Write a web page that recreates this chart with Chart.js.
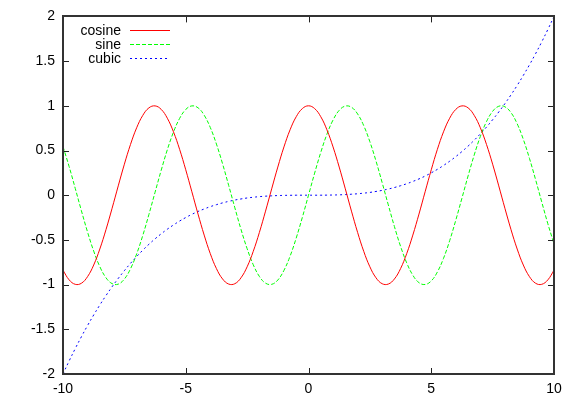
<!DOCTYPE html>
<html>
<head>
<meta charset="utf-8">
<script src="https://cdn.jsdelivr.net/npm/chart.js@4/dist/chart.umd.min.js"></script>
<style>
  html, body { margin: 0; padding: 0; background: #fff; }
  #wrap { width: 576px; height: 403px; }
</style>
</head>
<body>
<div id="wrap"><canvas id="plot"></canvas></div>
<script>
// sample positions along x
const xs = [
  -10, -9.75, -9.5, -9.25, -9, -8.75, -8.5, -8.25, -8, -7.75, -7.5, -7.25, -7, -6.75, -6.5, -6.25,
  -6, -5.75, -5.5, -5.25, -5, -4.75, -4.5, -4.25, -4, -3.75, -3.5, -3.25, -3, -2.75, -2.5, -2.25,
  -2, -1.75, -1.5, -1.25, -1, -0.75, -0.5, -0.25, 0, 0.25, 0.5, 0.75, 1, 1.25, 1.5, 1.75,
  2, 2.25, 2.5, 2.75, 3, 3.25, 3.5, 3.75, 4, 4.25, 4.5, 4.75, 5, 5.25, 5.5, 5.75,
  6, 6.25, 6.5, 6.75, 7, 7.25, 7.5, 7.75, 8, 8.25, 8.5, 8.75, 9, 9.25, 9.5, 9.75, 10
];

const cosine = [
  -0.839, -0.947, -0.997, -0.985, -0.911, -0.781, -0.602, -0.386, -0.146, 0.104, 0.347, 0.568, 0.754, 0.893, 0.977, 0.999,
  0.960, 0.861, 0.709, 0.513, 0.284, 0.038, -0.211, -0.446, -0.654, -0.821, -0.937, -0.994, -0.990, -0.924, -0.801, -0.628,
  -0.416, -0.178, 0.071, 0.315, 0.540, 0.732, 0.878, 0.969, 1, 0.969, 0.878, 0.732, 0.540, 0.315, 0.071, -0.178,
  -0.416, -0.628, -0.801, -0.924, -0.990, -0.994, -0.937, -0.821, -0.654, -0.446, -0.211, 0.038, 0.284, 0.513, 0.709, 0.861,
  0.960, 0.999, 0.977, 0.893, 0.754, 0.568, 0.347, 0.104, -0.146, -0.386, -0.602, -0.781, -0.911, -0.985, -0.997, -0.947, -0.839
];

const sine = [
  0.544, 0.320, 0.075, -0.174, -0.412, -0.625, -0.799, -0.923, -0.989, -0.995, -0.938, -0.823, -0.657, -0.450, -0.215, 0.033,
  0.279, 0.509, 0.706, 0.859, 0.959, 0.999, 0.978, 0.895, 0.757, 0.572, 0.351, 0.108, -0.141, -0.382, -0.598, -0.778,
  -0.909, -0.984, -0.997, -0.949, -0.841, -0.682, -0.479, -0.247, 0, 0.247, 0.479, 0.682, 0.841, 0.949, 0.997, 0.984,
  0.909, 0.778, 0.598, 0.382, 0.141, -0.108, -0.351, -0.572, -0.757, -0.895, -0.978, -0.999, -0.959, -0.859, -0.706, -0.509,
  -0.279, -0.033, 0.215, 0.450, 0.657, 0.823, 0.938, 0.995, 0.989, 0.923, 0.799, 0.625, 0.412, 0.174, -0.075, -0.320, -0.544
];

const cubic = [
  -2, -1.854, -1.715, -1.583, -1.458, -1.340, -1.228, -1.123, -1.024, -0.931, -0.844, -0.762, -0.686, -0.615, -0.549, -0.488,
  -0.432, -0.380, -0.333, -0.289, -0.25, -0.214, -0.182, -0.154, -0.128, -0.106, -0.086, -0.069, -0.054, -0.042, -0.031, -0.023,
  -0.016, -0.011, -0.007, -0.004, -0.002, -0.001, 0, 0, 0, 0, 0, 0.001, 0.002, 0.004, 0.007, 0.011,
  0.016, 0.023, 0.031, 0.042, 0.054, 0.069, 0.086, 0.106, 0.128, 0.154, 0.182, 0.214, 0.25, 0.289, 0.333, 0.380,
  0.432, 0.488, 0.549, 0.615, 0.686, 0.762, 0.844, 0.931, 1.024, 1.123, 1.228, 1.340, 1.458, 1.583, 1.715, 1.854, 2
];

const xTicks = [-10, -5, 0, 5, 10];
const yTicks = [-2, -1.5, -1, -0.5, 0, 0.5, 1, 1.5, 2];

const FONT = '"Liberation Sans", Arial, Helvetica, sans-serif';

function pts(ys) {
    return xs.map((x, i) => ({ x: x, y: ys[i] }));
}

// gnuplot style frame: box + inward ticks on all four sides, legend top-left
const framePlugin = {
    id: 'frame',
    afterDraw(chart) {
        const ctx = chart.ctx;
        const a = chart.chartArea;
        const sx = chart.scales.x, sy = chart.scales.y;
        const tl = 6;
        ctx.save();
        ctx.strokeStyle = '#222';
        ctx.lineWidth = 1;
        ctx.setLineDash([]);
        ctx.beginPath();
        xTicks.forEach(v => {
            const px = Math.round(sx.getPixelForValue(v)) + 0.5;
            ctx.moveTo(px, a.bottom); ctx.lineTo(px, a.bottom - tl);
            ctx.moveTo(px, a.top); ctx.lineTo(px, a.top + tl);
        });
        yTicks.forEach(v => {
            const py = Math.round(sy.getPixelForValue(v)) + 0.5;
            ctx.moveTo(a.left, py); ctx.lineTo(a.left + tl, py);
            ctx.moveTo(a.right, py); ctx.lineTo(a.right - tl, py);
        });
        ctx.stroke();
        ctx.lineWidth = 2;
        ctx.strokeStyle = '#333';
        ctx.strokeRect(Math.round(a.left), Math.round(a.top),
            Math.round(a.right - a.left), Math.round(a.bottom - a.top));

        // legend
        ctx.font = '14px ' + FONT;
        ctx.textAlign = 'right';
        ctx.textBaseline = 'middle';
        ctx.lineWidth = 1;
        chart.data.datasets.forEach((ds, i) => {
            const y = 31 + i * 14;
            ctx.fillStyle = '#000';
            ctx.fillText(ds.label, 121, y);
            ctx.strokeStyle = ds.borderColor;
            ctx.setLineDash(ds.borderDash || []);
            ctx.beginPath();
            ctx.moveTo(130, y - 0.5);
            ctx.lineTo(170, y - 0.5);
            ctx.stroke();
        });
        ctx.restore();
    }
};

new Chart(document.getElementById('plot'), {
    type: 'line',
    data: {
        datasets: [
            { label: 'cosine', data: pts(cosine), borderColor: '#ff0000', borderWidth: 1, borderDash: [] },
            { label: 'sine', data: pts(sine), borderColor: '#00ff00', borderWidth: 1, borderDash: [4, 2] },
            { label: 'cubic', data: pts(cubic), borderColor: '#0000ff', borderWidth: 1, borderDash: [2, 3] }
        ]
    },
    options: {
        responsive: true,
        maintainAspectRatio: false,
        animation: false,
        events: [],
        elements: {
            point: { radius: 0 },
            line: { tension: 0.4, fill: false }
        },
        layout: { padding: { left: 0, top: 16, right: 22, bottom: 0 } },
        plugins: {
            legend: { display: false },
            tooltip: { enabled: false }
        },
        scales: {
            x: {
                type: 'linear',
                min: -10, max: 10,
                afterBuildTicks: s => { s.ticks = xTicks.map(v => ({ value: v })); },
                afterFit: s => { s.height = 29; },
                grid: { display: false, drawTicks: false },
                border: { display: false },
                ticks: { color: '#000', padding: 7, maxRotation: 0, font: { family: FONT, size: 14 },
                         callback: v => String(v) }
            },
            y: {
                type: 'linear',
                min: -2, max: 2,
                afterBuildTicks: s => { s.ticks = yTicks.map(v => ({ value: v })); },
                afterFit: s => { s.width = 63; },
                grid: { display: false, drawTicks: false },
                border: { display: false },
                ticks: { color: '#000', padding: 8, font: { family: FONT, size: 14 },
                         callback: v => String(v) }
            }
        }
    },
    plugins: [framePlugin]
});
</script>
</body>
</html>
